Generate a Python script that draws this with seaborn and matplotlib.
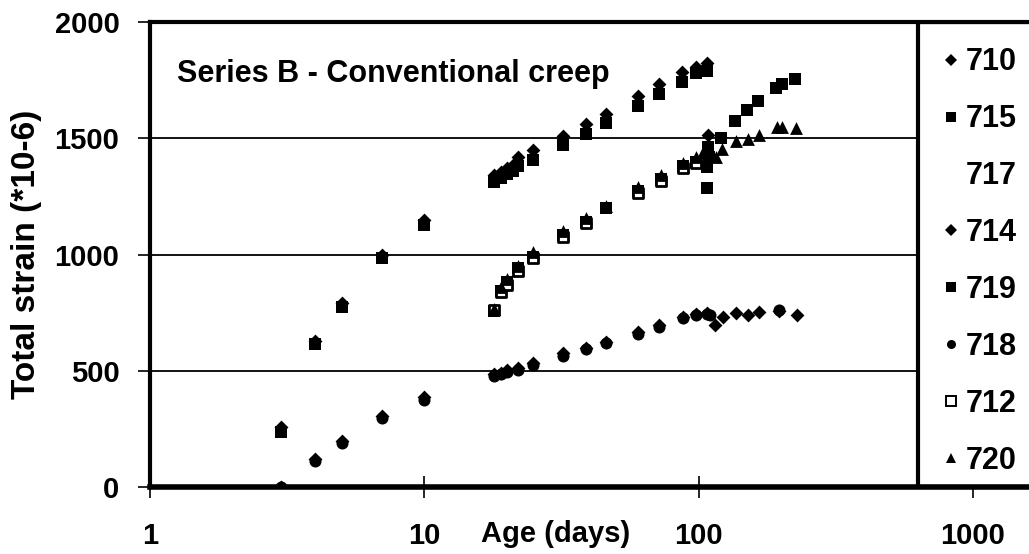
# %%
import matplotlib.pyplot as plt
import seaborn as sns
from matplotlib.lines import Line2D
from matplotlib.patches import Rectangle
from matplotlib.ticker import NullLocator

# %%
# group loaded at 3 days
age_710 = [3, 4, 5, 7, 10, 18, 19, 20, 21, 22, 25, 32, 39, 46, 60, 72, 87, 98, 107, 108]
strain_710 = [260, 630, 790, 1000, 1150, 1340, 1355, 1370, 1385, 1420, 1450, 1510, 1560,
              1605, 1680, 1735, 1785, 1805, 1825, 1513]
age_715 = [3, 4, 5, 7, 10, 18, 19, 20, 21, 22, 25, 32, 39, 46, 60, 72, 87, 98, 107, 108]
strain_715 = [235, 615, 775, 985, 1125, 1310, 1330, 1345, 1360, 1380, 1405, 1470, 1520,
              1565, 1640, 1690, 1740, 1780, 1790, 1462]
age_717 = []
strain_717 = []

# group loaded at 18 days
age_719 = [18, 19, 20, 22, 25, 32, 39, 46, 60, 73, 88, 98, 107, 107, 109, 121, 136, 150,
           165, 192, 202, 225]
strain_719 = [755, 845, 880, 940, 990, 1085, 1140, 1200, 1275, 1325, 1380, 1400, 1286,
              1376, 1420, 1500, 1575, 1620, 1660, 1715, 1735, 1755]
age_712 = [18, 19, 20, 22, 25, 32, 39, 60, 73, 88, 98]
strain_712 = [760, 840, 870, 930, 985, 1075, 1135, 1265, 1315, 1370, 1395]
age_720 = [18, 19, 20, 22, 25, 32, 39, 46, 60, 73, 88, 98, 104, 116, 122, 137, 151, 166,
           193, 201, 226]
strain_720 = [765, 860, 895, 950, 1010, 1100, 1155, 1210, 1290, 1340, 1395, 1420, 1440,
              1420, 1455, 1490, 1495, 1515, 1550, 1550, 1545]

# low group
age_718 = [3, 4, 5, 7, 10, 18, 19, 20, 22, 25, 32, 39, 46, 60, 72, 88, 98, 107, 110, 196]
strain_718 = [0, 110, 190, 295, 375, 478, 485, 495, 505, 525, 565, 592, 618, 660, 688,
              725, 738, 745, 740, 760]
age_714 = [3, 4, 5, 7, 10, 18, 19, 20, 22, 25, 32, 39, 46, 60, 72, 88, 98, 107, 115, 123,
           137, 151, 166, 196, 228]
strain_714 = [0, 120, 200, 305, 385, 485, 492, 503, 512, 535, 575, 600, 625, 668, 695,
              733, 745, 750, 697, 731, 748, 740, 753, 758, 740]

legend_labels = ["710", "715", "717", "714", "719", "718", "712", "720"]

# %%
sns.set_style("white")
plt.rcParams["font.family"] = ["Liberation Sans", "DejaVu Sans"]
plt.rcParams["font.weight"] = "bold"
for key in ["text.color", "axes.labelcolor", "xtick.color", "ytick.color"]:
    plt.rcParams[key] = "black"

W, H = 1029, 554
fig = plt.figure(figsize=(W / 100, H / 100), dpi=100)
ax = fig.add_axes([150 / W, 67 / H, 879 / W, 465 / H])

series = [
    (age_718, strain_718, "o", 75, "black", 0),
    (age_714, strain_714, "D", 50, "black", 0),
    (age_710, strain_710, "D", 50, "black", 0),
    (age_715, strain_715, "s", 65, "black", 0),
    (age_719, strain_719, "s", 65, "black", 0),
    (age_712, strain_712, "s", 60, "white", 2.0),
    (age_720, strain_720, "^", 85, "black", 0),
]
for x, y, m, s, fc, lw in series:
    sns.scatterplot(x=x, y=y, marker=m, s=s, color=fc, edgecolor="black",
                    linewidth=lw, ax=ax, legend=False, zorder=3)

ax.set_xscale("log")
ax.set_xlim(1, 10 ** (879 / 274.3))
ax.set_ylim(0, 2000)
ax.set_xticks([1, 10, 100, 1000])
ax.set_xticklabels(["1", "10", "100", "1000"])
ax.xaxis.set_minor_locator(NullLocator())
ax.set_yticks([0, 500, 1000, 1500, 2000])
ax.tick_params(axis="x", direction="inout", length=16, width=1.2, pad=17,
               labelsize=21, bottom=True)
ax.tick_params(axis="y", direction="out", length=9, width=1.2, pad=13,
               labelsize=21, left=True)
for lab in ax.get_xticklabels() + ax.get_yticklabels():
    lab.set_fontweight("bold")

ax.yaxis.grid(True, color="black", linewidth=1.3)
ax.xaxis.grid(False)
ax.set_axisbelow(True)

for side, lw in [("top", 3), ("left", 3), ("bottom", 4)]:
    ax.spines[side].set_linewidth(lw)
    ax.spines[side].set_color("black")
ax.spines["right"].set_visible(False)

# legend box at the right side
x0 = (918 - 150) / 879
ax.add_patch(Rectangle((x0, 0), 0.3, 1, transform=ax.transAxes, facecolor="white",
                       edgecolor="black", linewidth=3, zorder=1))

ax.text((177 - 150) / 879, (487 - 82) / 465, "Series B - Conventional creep",
        transform=ax.transAxes, fontsize=22, fontweight="bold", va="baseline")

ax.set_xlabel("Age (days)", fontsize=21, fontweight="bold")
ax.xaxis.set_label_coords((556 - 150) / 879, (487 - 520) / 465)
ax.set_ylabel("Total strain (*10-6)", fontsize=24, fontweight="bold")
ax.yaxis.set_label_coords((42 - 150) / 879, 0.5)

mk = {"710": "D", "715": "s", "717": "None", "714": "D", "719": "s", "718": "o",
      "712": "s", "720": "^"}
handles = []
for lbl in legend_labels:
    fc = "white" if lbl == "712" else "black"
    handles.append(Line2D([], [], linestyle="None", marker=mk[lbl], markersize=6.5,
                          markerfacecolor=fc, markeredgecolor="black",
                          markeredgewidth=1.4 if lbl == "712" else 0))
fig.legend(handles, legend_labels, loc="upper left",
           bbox_to_anchor=(943 / W, 1 - 47.5 / H), frameon=False,
           prop={"weight": "bold", "size": 22}, borderpad=0, borderaxespad=0,
           handlelength=0.5, handletextpad=0.25, labelspacing=0.88)

fig.savefig("out.png", dpi=100)
